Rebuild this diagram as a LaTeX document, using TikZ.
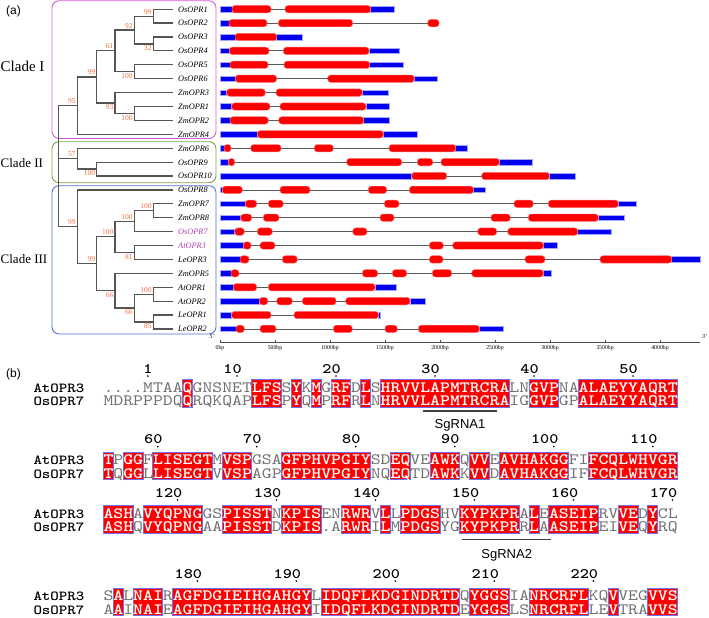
\documentclass[tikz,border=0pt]{standalone}
\usepackage{fontspec}
\usepackage{graphicx}
\setmainfont{Liberation Serif}
\setsansfont{Liberation Sans}
\newfontfamily\seqfont{lmmono10-regular.otf}[BoldFont=lmmonolt10-bold.otf]
\usetikzlibrary{calc}
\definecolor{utrblue}{HTML}{0000F0}
\definecolor{exonred}{HTML}{FF0000}
\definecolor{treegray}{HTML}{555555}
\definecolor{suppcol}{HTML}{F07040}
\definecolor{cladeIcol}{HTML}{D060D0}
\definecolor{cladeIIcol}{HTML}{80A050}
\definecolor{cladeIIIcol}{HTML}{5070E0}
\definecolor{hilite}{HTML}{B040B0}
\definecolor{boxedge}{HTML}{7070F0}
\definecolor{seqgray}{HTML}{707070}
\newcommand{\hl}[1]{{\bfseries\color{white}#1}}
\newcommand{\sq}[1]{\scalebox{1.1935}[1]{#1}}
\newcommand{\RY}[1]{9.2+13.9*#1}
\newcommand{\generow}[4]{%
  \draw[intron] (220,{\RY{#1}}) -- (#2,{\RY{#1}});
  \foreach \a/\b in {#3} {\draw[utr] (\a,{\RY{#1}-2.8}) rectangle (\b,{\RY{#1}+2.8});}
  \foreach \a/\b in {#4} {\draw[exon] (\a,{\RY{#1}-3.7}) rectangle (\b,{\RY{#1}+3.7});}
}
\newcommand{\idspans}[2]{\foreach \a/\b in {#2} {\draw[idbox] ({103.3+(\a-1)*9.9},{#1-12.4}) rectangle ({103.3+\b*9.9},{#1+15});}}
\newcommand{\numrow}[3]{\foreach \n/\c in {#3} {
    \node[numlab, anchor=base east] (num\n) at ({103.3+\c*9.9},#1) {\scalebox{1.2}[1]{\n}};
    \fill ({103.3+(\c-0.5)*9.9},#2) circle (0.9);}}
\begin{document}
\begin{tikzpicture}[x=1pt,y=-1pt,
  branch/.style={draw=treegray, line width=1.2pt},
  leaf/.style={font=\fontsize{8.3}{8.3}\selectfont\itshape, inner sep=0pt},
  supp/.style={font=\fontsize{7.5}{7.5}\selectfont, text=suppcol, inner sep=0.5pt},
  cladelab/.style={inner sep=0pt, anchor=base west},
  intron/.style={draw=black!65, line width=0.8pt},
  utr/.style={fill=utrblue, draw=blue!35, line width=0.5pt},
  exon/.style={fill=exonred, draw=red!55, line width=0.4pt, rounded corners=3pt},
  axisline/.style={draw=black!70, line width=0.8pt},
  bplab/.style={font=\fontsize{5.8}{5.8}\selectfont, inner sep=0pt},
  seq/.style={font=\seqfont\fontsize{15.8}{15.8}\selectfont, text=seqgray, inner sep=0pt, anchor=base west, text height=9.8pt, text depth=1pt},
  seqname/.style={font=\seqfont\bfseries\fontsize{13.8}{13.8}\selectfont, inner sep=0pt, anchor=base west, text height=8.6pt, text depth=1pt},
  numlab/.style={font=\seqfont\bfseries\fontsize{14.5}{14.5}\selectfont, inner sep=0pt},
  idbox/.style={fill=exonred, draw=boxedge, line width=0.7pt},
  sgline/.style={draw=black!75, line width=1.2pt},
  sglab/.style={font=\sffamily\fontsize{13}{13}\selectfont, inner sep=0pt}]
\useasboundingbox (0,0) rectangle (709,618);
\fill[white] (0,0) rectangle (709,618);
% ---------- panel labels
\node[font=\sffamily\fontsize{12}{12}\selectfont, inner sep=0pt, anchor=base west] (pa) at (6,14.3) {(a)};
\node[font=\sffamily\fontsize{12}{12}\selectfont, inner sep=0pt, anchor=base west] (pb) at (6,377.5) {(b)};
% ---------- clade boxes
\draw[cladeIcol, line width=0.9pt, rounded corners=7pt] (52,0.8) rectangle (216,138.5);
\draw[cladeIIcol, line width=0.9pt, rounded corners=7pt] (52,141.7) rectangle (216,182.7);
\draw[cladeIIIcol, line width=0.9pt, rounded corners=7pt] (52,185.7) rectangle (216,334);
\node[cladelab, font=\fontsize{15}{15}\selectfont] (cl1) at (0.5,71) {Clade I};
\node[cladelab, font=\fontsize{13}{13}\selectfont] (cl2) at (0.5,167.6) {Clade II};
\node[cladelab, font=\fontsize{13}{13}\selectfont] (cl3) at (0.5,263.6) {Clade III};
% ---------- leaves
\foreach \nm/\cl [count=\i from 0] in {OsOPR1/black,OsOPR2/black,OsOPR3/black,OsOPR4/black,OsOPR5/black,OsOPR6/black,ZmOPR3/black,ZmOPR1/black,ZmOPR2/black,ZmOPR4/black,ZmOPR6/black,OsOPR9/black,OsOPR10/black,OsOPR8/black,ZmOPR7/black,ZmOPR8/black,OsOPR7/hilite,AtOPR3/hilite,LeOPR3/black,ZmOPR5/black,AtOPR1/black,AtOPR2/black,LeOPR1/black,LeOPR2/black} {
  \coordinate (L\i) at (173,{\RY{\i}});
  \node[leaf, text=\cl, anchor=base west] (T\i) at (178,{\RY{\i}+2.9}) {\nm};
}
% ---------- internal nodes
\coordinate (a1) at (153.3,{\RY{0.5}});
\coordinate (a2) at (153.3,{\RY{2.5}});
\coordinate (a3) at (134.3,{\RY{1.5}});
\coordinate (a4) at (134.3,{\RY{4.5}});
\coordinate (a5) at (115,{\RY{3}});
\coordinate (a6) at (134.3,{\RY{7.5}});
\coordinate (a7) at (115,{\RY{6.75}});
\coordinate (a8) at (96.7,{\RY{4.875}});
\coordinate (a9) at (77.3,{\RY{6.9375}});
\coordinate (b1) at (96.7,{\RY{11.5}});
\coordinate (b2) at (77.3,{\RY{10.75}});
\coordinate (c1) at (153.3,{\RY{14.5}});
\coordinate (c2) at (134.3,{\RY{15.25}});
\coordinate (c3) at (134.3,{\RY{17.5}});
\coordinate (c4) at (115,{\RY{16.375}});
\coordinate (c5) at (153.3,{\RY{20.5}});
\coordinate (c6) at (153.3,{\RY{22.5}});
\coordinate (c7) at (134.3,{\RY{21.5}});
\coordinate (c8) at (115,{\RY{20.25}});
\coordinate (c9) at (96.7,{\RY{18.3125}});
\coordinate (c10) at (77.3,{\RY{15.65625}});
\coordinate (root) at (58.3,{\RY{11.296875}});
% ---------- branches
\draw[branch] (a1) |- (L0) (a1) |- (L1) (a2) |- (L2) (a2) |- (L3)
  (a3) |- (a1) (a3) |- (a2) (a4) |- (L4) (a4) |- (L5) (a5) |- (a3) (a5) |- (a4)
  (a6) |- (L7) (a6) |- (L8) (a7) |- (L6) (a7) |- (a6) (a8) |- (a5) (a8) |- (a7)
  (a9) |- (a8) (a9) |- (L9);
\draw[branch] (b1) |- (L11) (b1) |- (L12) (b2) |- (L10) (b2) |- (b1);
\draw[branch] (c1) |- (L14) (c1) |- (L15) (c2) |- (c1) (c2) |- (L16)
  (c3) |- (L17) (c3) |- (L18) (c4) |- (c2) (c4) |- (c3)
  (c5) |- (L20) (c5) |- (L21) (c6) |- (L22) (c6) |- (L23) (c7) |- (c5) (c7) |- (c6)
  (c8) |- (L19) (c8) |- (c7) (c9) |- (c4) (c9) |- (c8) (c10) |- (L13) (c10) |- (c9);
\draw[branch] (root) |- (a9) (root) |- (b2) (root) |- (c10);
% ---------- support values
\foreach \nd/\v in {a1/99,a3/92,a5/61,a8/99,a9/95,b2/57,c1/100,c2/100,c4/100,c5/100,c9/99,c10/99}
  {\node[supp, anchor=south east] (s\nd) at ($(\nd)+(-1,-1.2)$) {\v};}
\foreach \nd/\v in {a2/32,a4/100,a6/100,a7/93,b1/100,c3/81,c6/85,c7/66,c8/66}
  {\node[supp, anchor=north east] (s\nd) at ($(\nd)+(-1,1)$) {\v};}
% ---------- gene structures
\generow{0}{394}{220/232,370.7/394}{232/271,285/370.7}
\generow{1}{439}{220/229}{229/267,278.3/352.7,427.7/439}
\generow{2}{302.7}{220/235,276.7/302.7}{235/276.7}
\generow{3}{399}{220/229.3,369/399}{229.3/269,283.3/369}
\generow{4}{403.3}{220/230,369.7/403.3}{230/268,284/369.7}
\generow{5}{437.3}{220/235.3,414.3/437.3}{235.3/276.7,327.7/414.3}
\generow{6}{388.3}{220/226.7,362.3/388.3}{226.7/265.3,276/362.3}
\generow{7}{389.3}{220/231.7,366/389.3}{231.7/270,280/366}
\generow{8}{389.3}{220/230,363.7/389.3}{230/268.3,278.7/363.7}
\generow{9}{417.3}{220/257.3,383.3/417.3}{257.3/383.3}
\generow{10}{467.3}{220/224,455.7/467.3}{224/231,250.7/281,314.3/333.3,389/455.7}
\generow{11}{532.3}{220/228.3,499.3/532.3}{228.3/234.7,346.7/401.7,417.3/432.7,441/499.3}
\generow{12}{575}{220/411.7,549.3/575}{411.7/446.7,481.7/549.3}
\generow{13}{485.3}{220/222.3,473.5/485.3}{222.3/242.3,280/310,368.3/386.7,409.3/473.5}
\generow{14}{636.7}{220/245.3,618.3/636.7}{245.3/256.7,268.3/283.3,384.3/399,514/533.3,548.3/618.3}
\generow{15}{624.7}{220/240.7,598.3/624.7}{240.7/251.7,263.3/279,380/394,491/510.3,528.3/598.3}
\generow{16}{611.3}{220/234.7,577.7/611.3}{234.7/244.3,257.3/272.3,352.7/367,477.7/496.7,507.7/577.7}
\generow{17}{557.3}{220/243.3,543.3/557.3}{243.3/251,260/275,429.3/443.3,452.7/543.3}
\generow{18}{700.7}{220/240,671.7/700.7}{240/249,282.3/297.3,429.3/443,525/545,600/671.7}
\generow{19}{551.7}{220/231,543.3/551.7}{231/239,362.3/377.7,392.3/406.7,432.3/451.7,471.7/543.3}
\generow{20}{396.7}{220/233.3,375/396.7}{233.3/256.7,268.3/375}
\generow{21}{425}{220/259.3,410/425}{259.3/267.7,276.7/292.3,302.3/336,345.7/410}
\generow{22}{380}{220/231.7,378.3/380}{231.7/271,294/378.3}
\generow{23}{503.3}{220/236,479.3/503.3}{236/244.3,260/276,333.3/352.3,385/397.3,418.3/479.3}
% ---------- scale axis
\draw[axisline] (220,342.7) -- (700,342.7);
\foreach \k/\t in {0/0bp,1/500bp,2/1000bp,3/1500bp,4/2000bp,5/2500bp,6/3000bp,7/3500bp,8/4000bp} {
  \draw[axisline] ({220+55*\k},339.6) -- ({220+55*\k},342.7);
  \node[bplab] (bp\k) at ({220+55*\k},348.6) {\t};
}
\node[bplab, font=\fontsize{6}{6}\selectfont\itshape] (five) at (212,337) {5'};
\node[bplab, font=\fontsize{6}{6}\selectfont\itshape] (three) at (704.5,337) {3'};
% ---------- alignment block 1
\idspans{392}{9/9,16/18,20/20,22/22,24/25,27/27,29/41,44/46,49/58}
\numrow{373}{376}{1/5,10/14,20/24,30/34,40/44,50/54}
\node[seqname] (atn1) at (33.3,392) {\scalebox{1.17}[1]{AtOPR3}};
\node[seqname] (osn1) at (33.3,405.3) {\scalebox{1.17}[1]{OsOPR7}};
\node[seq] (ats1) at (103.3,392) {\sq{....MTAA\hl{Q}GNSNET\hl{LFS}S\hl{Y}K\hl{M}G\hl{RF}D\hl{L}S\hl{HRVVLAPMTRCRA}LN\hl{GVP}NA\hl{ALAEYYAQRT}}};
\node[seq] (oss1) at (103.3,405.3) {\sq{MDRPPPDQ\hl{Q}RQKQAP\hl{LFS}P\hl{Y}Q\hl{M}P\hl{RF}R\hl{L}N\hl{HRVVLAPMTRCRA}IG\hl{GVP}GP\hl{ALAEYYAQRT}}};
\coordinate (sg1a) at (422.7,411);
\coordinate (sg1b) at (496.7,411);
\draw[sgline] (sg1a) -- (sg1b);
\node[sglab] (sg1) at (460,425) {SgRNA1};
% ---------- alignment block 2
\idspans{464.7}{1/1,3/4,6/11,13/15,19/27,30/31,34/36,38/39,41/47,50/58}
\numrow{443.7}{446.6}{60/6,70/16,80/26,90/36,100/46,110/56}
\node[seqname] (atn2) at (33.3,464.7) {\scalebox{1.17}[1]{AtOPR3}};
\node[seqname] (osn2) at (33.3,478) {\scalebox{1.17}[1]{OsOPR7}};
\node[seq] (ats2) at (103.3,464.7) {\sq{\hl{T}P\hl{GG}F\hl{LISEGT}M\hl{VSP}GSA\hl{GFPHVPGIY}SD\hl{EQ}VE\hl{AWK}Q\hl{VV}E\hl{AVHAKGG}FI\hl{FCQLWHVGR}}};
\node[seq] (oss2) at (103.3,478) {\sq{\hl{T}Q\hl{GG}L\hl{LISEGT}V\hl{VSP}AGP\hl{GFPHVPGIY}NQ\hl{EQ}TD\hl{AWK}K\hl{VV}D\hl{AVHAKGG}IF\hl{FCQLWHVGR}}};
% ---------- alignment block 3
\idspans{518}{1/3,5/10,13/17,19/22,25/27,29/29,31/34,37/42,44/44,46/50,53/54,56/56}
\numrow{497}{500}{120/8,130/18,140/28,150/38,160/48,170/58}
\node[seqname] (atn3) at (33.3,518) {\scalebox{1.17}[1]{AtOPR3}};
\node[seqname] (osn3) at (33.3,531.3) {\scalebox{1.17}[1]{OsOPR7}};
\node[seq] (ats3) at (103.3,518) {\sq{\hl{ASH}A\hl{VYQPNG}GS\hl{PISST}N\hl{KPIS}EN\hl{RWR}V\hl{L}L\hl{PDGS}HV\hl{KYPKPR}A\hl{L}E\hl{ASEIP}RV\hl{VE}D\hl{Y}CL}};
\node[seq] (oss3) at (103.3,531.3) {\sq{\hl{ASH}Q\hl{VYQPNG}AA\hl{PISST}D\hl{KPIS}.A\hl{RWR}I\hl{L}M\hl{PDGS}YG\hl{KYPKPR}R\hl{L}A\hl{ASEIP}EI\hl{VE}Q\hl{Y}RQ}};
\coordinate (sg2a) at (461.7,539.5);
\coordinate (sg2b) at (550.7,539.5);
\draw[sgline] (sg2a) -- (sg2b);
\node[sglab] (sg2) at (506.7,555.5) {SgRNA2};
% ---------- alignment block 4
\idspans{600.7}{2/2,4/6,8/21,23/36,38/41,44/49,52/52,56/58}
\numrow{578}{581}{180/10,190/20,200/30,210/40,220/50}
\node[seqname] (atn4) at (33.3,600.7) {\scalebox{1.17}[1]{AtOPR3}};
\node[seqname] (osn4) at (33.3,614) {\scalebox{1.17}[1]{OsOPR7}};
\node[seq] (ats4) at (103.3,600.7) {\sq{S\hl{A}L\hl{NAI}R\hl{AGFDGIEIHGAHGY}L\hl{IDQFLKDGINDRTD}Q\hl{YGGS}IA\hl{NRCRFL}KQ\hl{V}VEG\hl{VVS}}};
\node[seq] (oss4) at (103.3,614) {\sq{A\hl{A}I\hl{NAI}E\hl{AGFDGIEIHGAHGY}I\hl{IDQFLKDGINDRTD}E\hl{YGGS}LS\hl{NRCRFL}LE\hl{V}TRA\hl{VVS}}};
\end{tikzpicture}
\end{document}
